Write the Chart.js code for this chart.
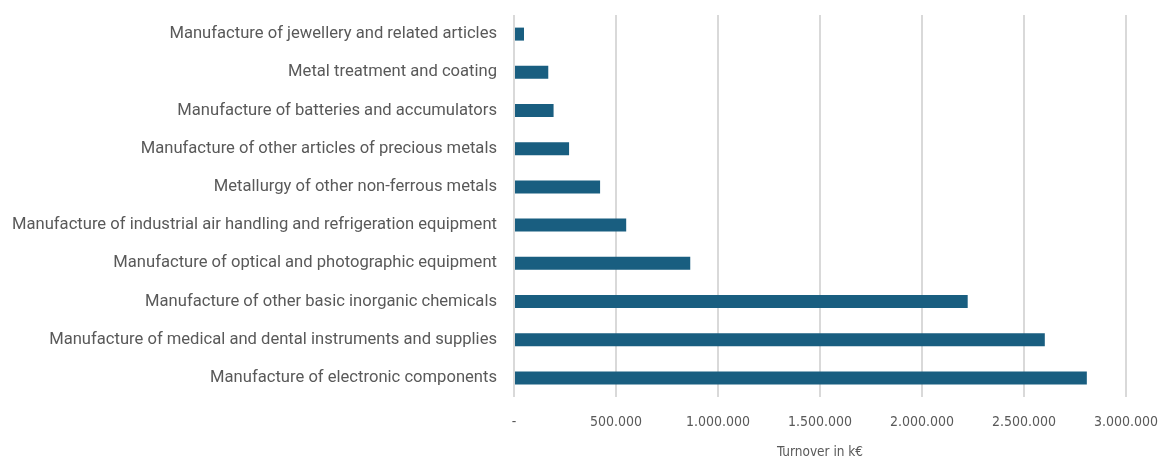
<!DOCTYPE html>
<html>
<head>
<meta charset="utf-8">
<script src="https://cdn.jsdelivr.net/npm/chart.js@4"></script>
<style>
  html, body { margin: 0; padding: 0; background: #ffffff; }
  #wrap { width: 1165px; height: 457px; }
</style>
</head>
<body>
<div id="wrap"><canvas id="chart" width="1165" height="457"></canvas></div>
<script>
// Industry categories, top to bottom
const industries = [
  "Manufacture of jewellery and related articles",
  "Metal treatment and coating",
  "Manufacture of batteries and accumulators",
  "Manufacture of other articles of precious metals",
  "Metallurgy of other non-ferrous metals",
  "Manufacture of industrial air handling and refrigeration equipment",
  "Manufacture of optical and photographic equipment",
  "Manufacture of other basic inorganic chemicals",
  "Manufacture of medical and dental instruments and supplies",
  "Manufacture of electronic components"
];

// Turnover in thousand euro
const turnover = [49000, 168000, 194000, 270000, 422000, 550000, 864000, 2224000, 2602000, 2808000];

// Axis range and spacing of the value ticks
const axisMin = 0;
const axisMax = 3000000;
const axisStep = 500000;

const axisTitle = "Turnover in k€";

function formatThousands(v) {
  if (v === 0) return "-";
  return String(Math.round(v)).replace(/\B(?=(\d{3})+(?!\d))/g, ".");
}

const labelColor = "#595959";
const narrowFont = "'DejaVu Sans Condensed', 'Liberation Sans Narrow', sans-serif";

new Chart(document.getElementById("chart"), {
  type: "bar",
  data: {
    labels: industries,
    datasets: [{
      data: turnover,
      backgroundColor: "#195e80",
      borderWidth: 0,
      categoryPercentage: 1,
      barPercentage: 0.34
    }]
  },
  options: {
    indexAxis: "y",
    responsive: false,
    animation: false,
    layout: { padding: { top: 15, right: 39, bottom: -4, left: 0 } },
    plugins: {
      legend: { display: false },
      tooltip: { enabled: false }
    },
    scales: {
      x: {
        min: axisMin,
        max: axisMax,
        ticks: {
          stepSize: axisStep,
          color: labelColor,
          padding: 17,
          maxRotation: 0,
          font: { family: narrowFont, size: 14 },
          callback: (v) => formatThousands(v)
        },
        grid: { color: "#d9d9d9", lineWidth: 2, drawTicks: false },
        border: { display: false },
        title: {
          display: true,
          text: axisTitle,
          color: labelColor,
          padding: { top: -3, bottom: 0 },
          font: { family: narrowFont, size: 13.5 }
        },
        afterFit: (scale) => { scale.paddingLeft = 0; scale.paddingRight = 0; }
      },
      y: {
        ticks: {
          color: labelColor,
          padding: 17,
          autoSkip: false,
          font: { family: "Roboto, sans-serif", size: 16.6 }
        },
        grid: { display: false, drawTicks: false },
        border: { display: false },
        afterFit: (scale) => { scale.width = 514; scale.paddingTop = 0; scale.paddingBottom = 0; }
      }
    }
  }
});
</script>
</body>
</html>
